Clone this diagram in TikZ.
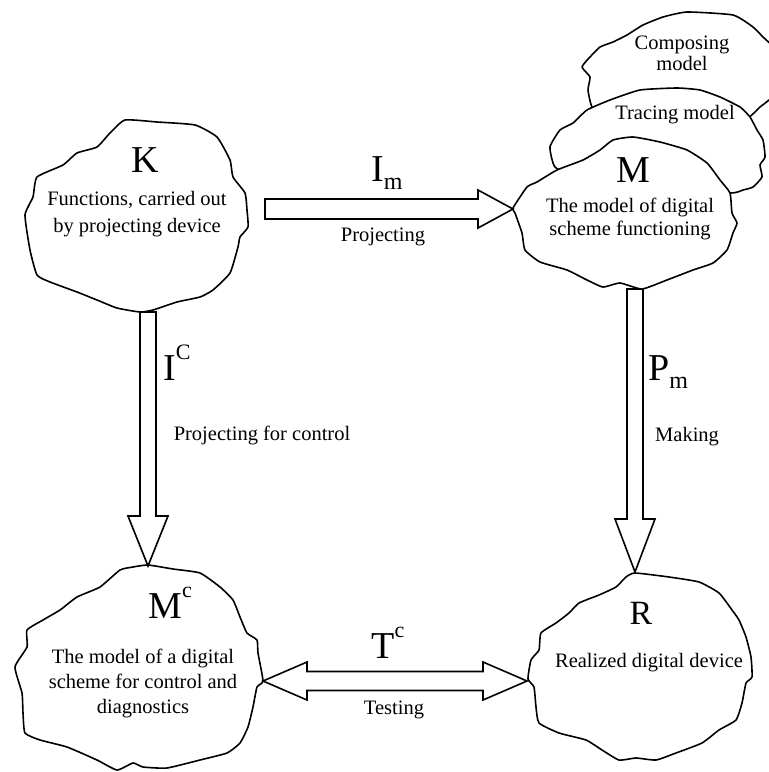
\documentclass[tikz,border=0pt]{standalone}
\usepackage{fontspec}
\setmainfont{Liberation Serif}
\usetikzlibrary{calc}
\newcommand\supc[1]{\raisebox{0.55em}{\fontsize{22}{22}\selectfont #1}}
\newcommand\subm[1]{\raisebox{-0.2em}{\fontsize{24}{24}\selectfont #1}}
% down block arrow: #1 start, #2 apex, #3 shaft half, #4 head half, #5 head length
\newcommand\blockdown[5]{%
\draw[barrow] let \p1=(#1), \p2=(#2) in
 (\x1-#3pt,\y1) -- (\x1-#3pt,\y2+#5pt) -- (\x1-#4pt,\y2+#5pt) -- (\x1,\y2)
 -- (\x1+#4pt,\y2+#5pt) -- (\x1+#3pt,\y2+#5pt) -- (\x1+#3pt,\y1) -- cycle;}
\newcommand\blockright[5]{%
\draw[barrow] let \p1=(#1), \p2=(#2) in
 (\x1,\y1+#3pt) -- (\x2-#5pt,\y1+#3pt) -- (\x2-#5pt,\y1+#4pt) -- (\x2,\y1)
 -- (\x2-#5pt,\y1-#4pt) -- (\x2-#5pt,\y1-#3pt) -- (\x1,\y1-#3pt) -- cycle;}
\newcommand\blockboth[5]{%
\draw[barrow] let \p1=(#1), \p2=(#2) in
 (\x1,\y1) -- (\x1+#5pt,\y1+#4pt) -- (\x1+#5pt,\y1+#3pt) -- (\x2-#5pt,\y1+#3pt)
 -- (\x2-#5pt,\y1+#4pt) -- (\x2,\y1) -- (\x2-#5pt,\y1-#4pt) -- (\x2-#5pt,\y1-#3pt)
 -- (\x1+#5pt,\y1-#3pt) -- (\x1+#5pt,\y1-#4pt) -- cycle;}
\begin{document}
\begin{tikzpicture}[x=1pt,y=-1pt,
  blob/.style={draw, line width=1.6pt, fill=white, line join=round},
  barrow/.style={draw, line width=1.6pt, fill=white, line join=miter},
  small/.style={font=\fontsize{20.5}{25}\selectfont, inner sep=0pt, align=center},
  big/.style={font=\fontsize{38}{40}\selectfont, inner sep=0pt}]
\useasboundingbox (0,0) rectangle (769,772);
\clip (0,0) rectangle (769,772);
\fill[white] (0,0) rectangle (769,772);

% ---- K blob
\draw[blob] plot[smooth cycle, tension=0.3] coordinates {
 (125,120) (157,122) (195,125) (217,137) (230,160) (233,177) (245,193) (247,210)
 (248,227) (240,237) (238,247) (230,273) (213,290) (200,297) (177,302) (153,310)
 (140,312) (117,308) (97,300) (77,292) (50,282) (37,275) (30,250) (25,215)
 (33,197) (37,177) (63,165) (77,153) (97,147) (110,133)};

% ---- Composing model cloud
\draw[blob] plot[smooth cycle, tension=0.3] coordinates {
 (592,107) (588,90) (590,77) (582,67) (590,57) (600,47) (613,42) (627,35)
 (643,25) (663,17) (687,12) (733,15) (753,27) (763,37) (778,52) (785,80)
 (775,95) (760,107) (740,122) (660,125) (605,118)};
% ---- Tracing model cloud
\draw[blob] plot[smooth cycle, tension=0.3] coordinates {
 (555,167) (550,147) (560,130) (573,123) (587,110) (610,100) (640,90) (677,88)
 (700,90) (720,97) (740,107) (750,117) (757,130) (763,140) (765,157) (760,165)
 (762,177) (753,187) (743,190) (730,193) (650,190) (580,180)};
% ---- M blob
\draw[blob] plot[smooth cycle, tension=0.3] coordinates {
 (513,208) (527,187) (537,182) (557,170) (583,160) (600,150) (613,140) (633,137)
 (660,142) (687,150) (707,163) (720,180) (730,193) (732,213) (737,223) (733,233)
 (727,250) (713,263) (693,270) (667,280) (642,289) (620,283) (603,287) (587,280)
 (567,270) (540,262) (525,250) (522,233) (515,213)};

% ---- Mc blob
\draw[blob] plot[smooth cycle, tension=0.3] coordinates {
 (148,565) (173,569) (200,573) (220,587) (233,600) (240,617) (247,633) (257,640)
 (258,653) (263,681) (257,687) (253,707) (248,727) (240,743) (227,753) (200,760)
 (167,768) (143,767) (133,763) (117,770) (97,760) (67,747) (40,740) (25,733)
 (23,713) (22,693) (15,667) (27,647) (27,630) (43,620) (60,610) (77,597)
 (100,587) (120,570) (133,567)};

% ---- R blob
\draw[blob] plot[smooth cycle, tension=0.3] coordinates {
 (635,573) (669,577) (699,582) (719,593) (732,610) (739,620) (746,637) (751,657)
 (752,677) (746,683) (742,703) (736,720) (719,730) (702,743) (676,753) (656,760)
 (636,758) (619,760) (602,750) (586,740) (559,733) (539,723) (536,707) (534,687)
 (528,679) (531,660) (539,650) (541,633) (556,623) (569,613) (579,603) (599,595)
 (616,587) (626,577)};

% ---- connector anchors
\coordinate (Kbot) at (148,312);
\coordinate (Mctop) at (148,566);
\coordinate (Kout) at (265,209);
\coordinate (Mleft) at (513,209);
\coordinate (Mbot) at (635,289);
\coordinate (Rtop) at (635,572);
\coordinate (Mcright) at (263,681);
\coordinate (Rleft) at (527,681);

\blockdown{Kbot}{Mctop}{8}{20}{50}
\blockdown{Mbot}{Rtop}{8}{20}{53}
\blockright{Kout}{Mleft}{10}{19}{35}
\blockboth{Mcright}{Rleft}{9.5}{19}{44}

% ---- texts
\node[big] (Kl) at (145,160) {K};
\node[small, font=\fontsize{20.5}{27}\selectfont] (Kt) at (137,214) {Functions, carried out\\by projecting device};
\node[big] (Ml) at (633,170) {M};
\node[small, font=\fontsize{20.5}{23}\selectfont] (Mt) at (630,219) {The model of digital\\scheme functioning};
\node[small, font=\fontsize{20.5}{21}\selectfont] (Ct) at (682,53) {Composing\\model};
\node[small] (Tt) at (675,115) {Tracing model};
\node[big] (Mcl) at (170,603) {M\supc{c}};
\node[small] (Mct) at (143,683) {The model of a digital\\scheme for control and\\diagnostics};
\node[inner sep=0pt, font=\fontsize{34}{34}\selectfont] (Rl) at (641,613) {R};
\node[small] (Rt) at (649,663) {Realized digital device};

\node[big] (Im) at (387,173) {I\subm{m}};
\node[small] (Pj) at (383,237) {Projecting};
\node[big, anchor=west] (Ic) at (163,363) {I\supc{C}};
\node[small] (Pfc) at (262,435) {Projecting for control};
\node[big, anchor=west] (Pm) at (648,372) {P\subm{m}};
\node[small, anchor=west] (Mk) at (655,437) {Making};
\node[big] (Tc) at (388,643) {T\supc{c}};
\node[small] (Ts) at (394,710) {Testing};
\end{tikzpicture}
\end{document}
